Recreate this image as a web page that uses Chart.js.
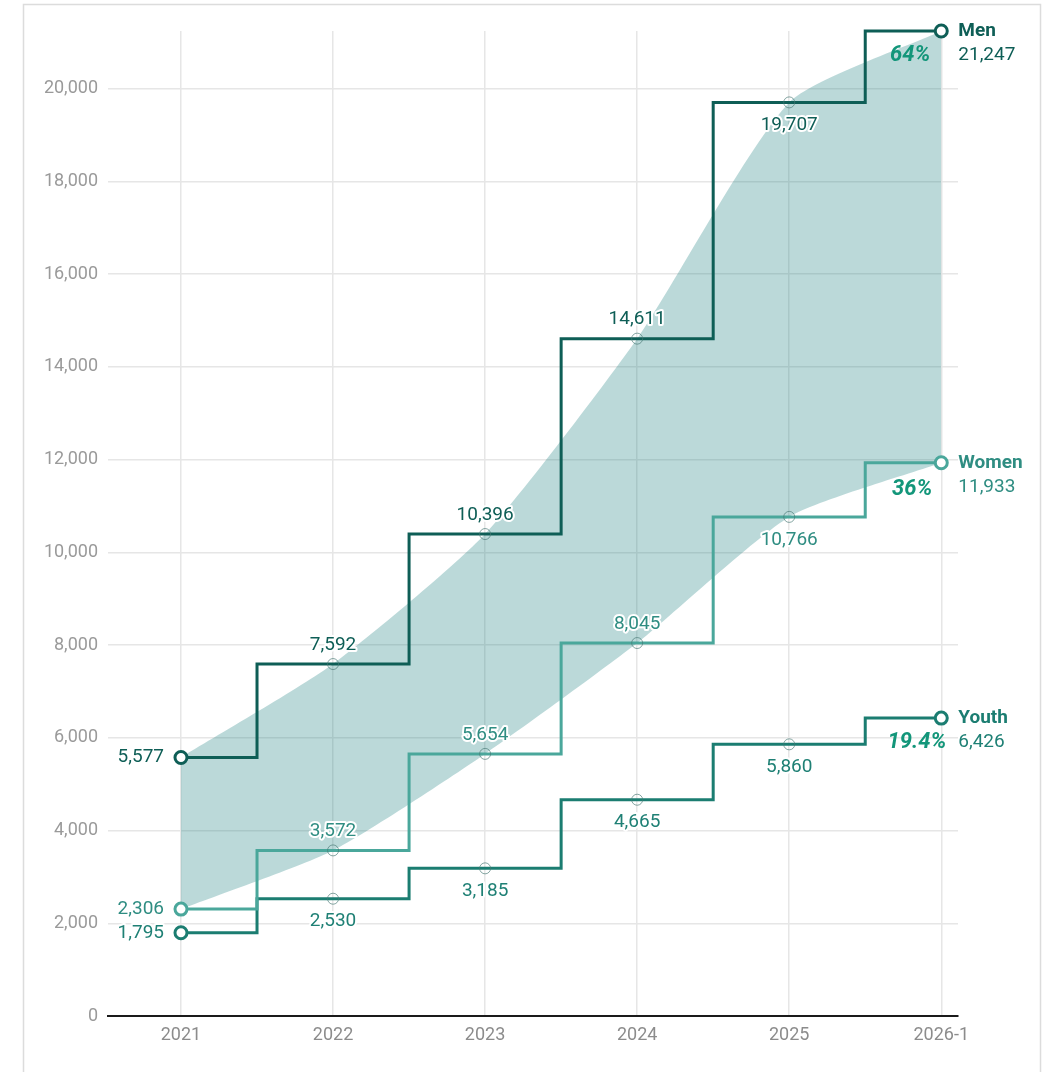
<!DOCTYPE html>
<html>
<head>
<meta charset="utf-8">
<title>Men, women and youth</title>
<script src="https://cdn.jsdelivr.net/npm/chart.js@4.4.1/dist/chart.umd.min.js"></script>
<style>
    html, body { margin: 0; padding: 0; background: #fff; }
    canvas { display: block; }
</style>
</head>
<body>
<canvas id="stepChart" width="1046" height="1072"></canvas>
<script>
// categories and series
const years = ['2021', '2022', '2023', '2024', '2025', '2026-1'];
const men = [5577, 7592, 10396, 14611, 19707, 21247];
const women = [2306, 3572, 5654, 8045, 10766, 11933];
const youth = [1795, 2530, 3185, 4665, 5860, 6426];
const seriesNames = ['Men', 'Women', 'Youth'];
const shares = ['64%', '36%', '19.4%'];
const yTickValues = [0, 2000, 4000, 6000, 8000, 10000, 12000, 14000, 16000, 18000, 20000];

const FONT = 'Roboto, "Noto Sans", sans-serif';
const fmt = v => v.toLocaleString('en-US');
const toXY = arr => arr.map((v, i) => ({ x: i, y: v }));

// how each series is drawn and where its labels go
const series = [
    {
        name: seriesNames[0], values: men, share: shares[0],
        line: '#0e5e56', text: '#0e5e56', nameColor: '#0e5e56',
        place: ['left', 'above', 'above', 'above', 'below'],
        shareDx: -11, shareDy: 24
    },
    {
        name: seriesNames[1], values: women, share: shares[1],
        line: '#4aa79b', text: '#2f8d82', nameColor: '#2f8d82',
        place: ['left', 'above', 'above', 'above', 'below'],
        shareDx: -9, shareDy: 27
    },
    {
        name: seriesNames[2], values: youth, share: shares[2],
        line: '#1b7d71', text: '#1f8075', nameColor: '#1b7d71',
        place: ['left', 'below', 'below', 'below', 'below'],
        shareDx: 5, shareDy: 24
    }
];

const last = years.length - 1;
const isEnd = i => i === 0 || i === last;

function stepDataset(s) {
    return {
        label: s.name,
        data: toXY(s.values),
        stepped: 'middle',
        borderColor: s.line,
        borderWidth: 3,
        fill: false,
        clip: false,
        pointRadius: ctx => isEnd(ctx.dataIndex) ? 6 : 5.5,
        pointBorderWidth: ctx => isEnd(ctx.dataIndex) ? 3 : 1,
        pointBorderColor: ctx => isEnd(ctx.dataIndex) ? s.line : 'rgba(70,120,115,0.65)',
        pointBackgroundColor: ctx => isEnd(ctx.dataIndex) ? '#ffffff' : 'rgba(0,0,0,0)'
    };
}

// smooth band between men and women, drawn underneath the steps
const bandTop = {
    label: 'bandTop',
    data: toXY(men),
    borderWidth: 0,
    pointRadius: 0,
    tension: 0.2,
    backgroundColor: 'rgba(30,128,128,0.3)',
    fill: '+1',
    clip: false
};
const bandBottom = {
    label: 'bandBottom',
    data: toXY(women),
    borderWidth: 0,
    pointRadius: 0,
    tension: 0.2,
    fill: false,
    clip: false
};

function haloText(ctx, text, x, y) {
    ctx.save();
    ctx.strokeStyle = '#ffffff';
    ctx.lineWidth = 4;
    ctx.lineJoin = 'round';
    ctx.strokeText(text, x, y);
    ctx.restore();
    ctx.fillText(text, x, y);
}

const frame = {
    id: 'frame',
    beforeDraw(chart) {
        const ctx = chart.ctx;
        ctx.save();
        ctx.strokeStyle = '#dcdcdc';
        ctx.lineWidth = 1.5;
        ctx.strokeRect(23.5, 4.5, 1017, 1200);
        ctx.restore();
    }
};

const valueLabels = {
    id: 'valueLabels',
    afterDatasetsDraw(chart) {
        const ctx = chart.ctx;
        ctx.save();
        series.forEach((s, di) => {
            const pts = chart.getDatasetMeta(di).data;
            ctx.fillStyle = s.text;
            ctx.font = '19px ' + FONT;
            s.values.forEach((v, i) => {
                if (i === last) return;
                const p = pts[i];
                const where = s.place[i];
                ctx.textBaseline = 'middle';
                if (where === 'left') {
                    ctx.textAlign = 'right';
                    haloText(ctx, fmt(v), p.x - 17, p.y);
                } else {
                    ctx.textAlign = 'center';
                    haloText(ctx, fmt(v), p.x, where === 'above' ? p.y - 19 : p.y + 23);
                }
            });

            // series name and last value at the right end
            const end = pts[last];
            ctx.textAlign = 'left';
            ctx.textBaseline = 'middle';
            ctx.fillStyle = s.nameColor;
            ctx.font = 'bold 19px ' + FONT;
            ctx.fillText(s.name, end.x + 17, end.y);
            ctx.fillStyle = s.text;
            ctx.font = '19px ' + FONT;
            ctx.fillText(fmt(s.values[last]), end.x + 17, end.y + 24);

            // share of the total
            ctx.textAlign = 'right';
            ctx.fillStyle = '#13967a';
            ctx.font = 'italic bold 22px ' + FONT;
            ctx.fillText(s.share, end.x + s.shareDx, end.y + s.shareDy);
        });
        ctx.restore();
    }
};

new Chart(document.getElementById('stepChart'), {
    type: 'line',
    data: {
        datasets: [...series.map(stepDataset), bandTop, bandBottom]
    },
    options: {
        responsive: false,
        animation: false,
        devicePixelRatio: 1,
        layout: { padding: { top: 31, right: 88, left: 0, bottom: 0 } },
        plugins: {
            legend: { display: false },
            tooltip: { enabled: false }
        },
        scales: {
            x: {
                type: 'linear',
                min: -0.48,
                max: 5.11,
                afterBuildTicks: scale => { scale.ticks = years.map((_, i) => ({ value: i })); },
                afterFit: scale => { scale.height = 56; },
                border: { display: true, color: '#1a1a1a', width: 2 },
                grid: { color: '#e6e6e6', lineWidth: 1.5, drawTicks: false },
                ticks: {
                    padding: 9,
                    color: '#8c8c8c',
                    font: { family: FONT, size: 18 },
                    callback: v => years[v]
                }
            },
            y: {
                min: 0,
                max: 21247,
                afterBuildTicks: scale => { scale.ticks = yTickValues.map(v => ({ value: v })); },
                afterFit: scale => { scale.width = 108; },
                border: { display: false },
                grid: { color: '#e6e6e6', lineWidth: 1.5, drawTicks: false },
                ticks: {
                    padding: 10,
                    color: '#9a9a9a',
                    font: { family: FONT, size: 18 },
                    callback: v => fmt(v)
                }
            }
        }
    },
    plugins: [frame, valueLabels]
});
</script>
</body>
</html>
